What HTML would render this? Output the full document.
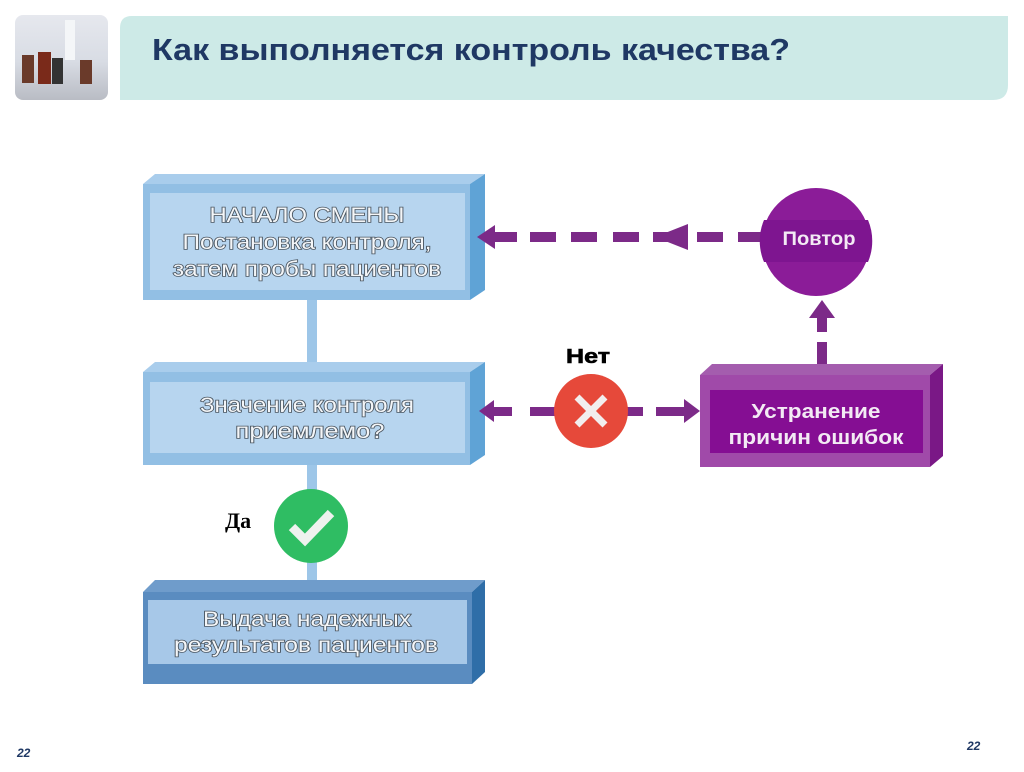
<!DOCTYPE html>
<html><head><meta charset="utf-8"><style>
body{margin:0;width:1024px;height:767px;background:#fff;overflow:hidden;font-family:"Liberation Sans",sans-serif}
.bt{font-size:21px;fill:#f4f6f8;stroke:#4a5560;stroke-width:1.6px;paint-order:stroke;text-anchor:middle}
</style></head><body>
<svg width="1024" height="767" viewBox="0 0 1024 767" xmlns="http://www.w3.org/2000/svg">
<defs>
<linearGradient id="img" x1="0" y1="0" x2="0" y2="1"><stop offset="0" stop-color="#e6e8ee"/><stop offset="0.55" stop-color="#d8dce4"/><stop offset="1" stop-color="#b9bcc4"/></linearGradient>
</defs>
<rect x="15" y="15" width="93" height="85" rx="8" fill="url(#img)"/>
<rect x="22" y="55" width="12" height="28" fill="#6a3a2a"/><rect x="38" y="52" width="13" height="32" fill="#7a2a1a"/><rect x="52" y="58" width="11" height="26" fill="#333"/><rect x="80" y="60" width="12" height="24" fill="#6a3a2a"/><rect x="65" y="20" width="10" height="40" fill="#f4f6f8"/>
<path d="M120 28 Q120 16 132 16 L1008 16 L1008 85 Q1008 100 993 100 L120 100 Z" fill="#cdeae7"/>
<text x="152" y="60" font-size="31" font-weight="bold" fill="#1f3864" textLength="638" lengthAdjust="spacingAndGlyphs">Как выполняется контроль качества?</text>

<rect x="307" y="298" width="10" height="76" fill="#9dc6e8"/>
<rect x="307" y="463" width="10" height="130" fill="#9dc6e8"/>

<polygon points="143,184 155,174 485,174 470,184" fill="#a9cdec"/>
<polygon points="470,184 485,174 485,290 470,300" fill="#5fa3d6"/>
<rect x="143" y="184" width="327" height="116" fill="#92bfe4"/>
<rect x="150" y="193" width="315" height="97" fill="#b7d5ef"/>
<text class="bt" x="307" y="222" textLength="195" lengthAdjust="spacingAndGlyphs">НАЧАЛО СМЕНЫ</text>
<text class="bt" x="307" y="249" textLength="249" lengthAdjust="spacingAndGlyphs">Постановка контроля,</text>
<text class="bt" x="307" y="276" textLength="268" lengthAdjust="spacingAndGlyphs">затем пробы пациентов</text>

<polygon points="143,372 155,362 485,362 470,372" fill="#a9cdec"/>
<polygon points="470,372 485,362 485,455 470,465" fill="#5fa3d6"/>
<rect x="143" y="372" width="327" height="93" fill="#92bfe4"/>
<rect x="150" y="382" width="315" height="71" fill="#b7d5ef"/>
<text class="bt" x="307" y="412" textLength="214" lengthAdjust="spacingAndGlyphs">Значение контроля</text>
<text class="bt" x="310" y="438" textLength="149" lengthAdjust="spacingAndGlyphs">приемлемо?</text>

<polygon points="143,592 155,580 485,580 472,592" fill="#6f9ccb"/>
<polygon points="472,592 485,580 485,672 472,684" fill="#2f6ea8"/>
<rect x="143" y="592" width="329" height="92" fill="#5a8cc0"/>
<rect x="148" y="600" width="319" height="64" fill="#a7c8e8"/>
<text class="bt" x="307" y="626" textLength="208" lengthAdjust="spacingAndGlyphs">Выдача надежных</text>
<text class="bt" x="306" y="652" textLength="264" lengthAdjust="spacingAndGlyphs">результатов пациентов</text>

<text x="225" y="528" font-family="Liberation Serif,serif" font-size="22" font-weight="bold" fill="#000">Да</text>
<circle cx="311" cy="526" r="37" fill="#2fbd63"/>
<path d="M292 527 L305 540 L331 513" fill="none" stroke="#eef2ee" stroke-width="9"/>

<g fill="#7c2a88">
<polygon points="477,237 495,225 495,249"/>
<rect x="495" y="232" width="22" height="10"/>
<rect x="530" y="232" width="26" height="10"/>
<rect x="571" y="232" width="26" height="10"/>
<rect x="613" y="232" width="26" height="10"/>
<polygon points="655,237 688,224 688,250"/>
<rect x="653" y="232" width="35" height="10"/>
<rect x="697" y="232" width="26" height="10"/>
<rect x="738" y="232" width="26" height="10"/>
</g>
<g fill="#7c2a88">
<polygon points="479,411 494,400 494,422"/>
<rect x="494" y="407" width="18" height="9"/>
<rect x="530" y="407" width="26" height="9"/>
<rect x="625" y="407" width="18" height="9"/>
<rect x="656" y="407" width="28" height="9"/>
<polygon points="700,411 684,399 684,423"/>
</g>
<g fill="#7c2a88">
<polygon points="822,300 809,318 835,318"/>
<rect x="817" y="318" width="10" height="14"/>
<rect x="817" y="342" width="10" height="22"/>
</g>

<text x="566" y="363" font-size="20" font-weight="bold" fill="#000" stroke="#000" stroke-width="0.6" textLength="44" lengthAdjust="spacingAndGlyphs">Нет</text>
<circle cx="591" cy="411" r="37" fill="#e6493a"/>
<path d="M577 397 L605 425 M605 397 L577 425" stroke="#f2eeee" stroke-width="7"/>

<polygon points="700,375 712,364 943,364 930,375" fill="#a45dae"/>
<polygon points="930,375 943,364 943,456 930,467" fill="#7a1886"/>
<rect x="700" y="375" width="230" height="92" fill="#a04aa9"/>
<rect x="710" y="390" width="213" height="63" fill="#850e93"/>
<g font-size="20" font-weight="bold" fill="#f3eaf4" text-anchor="middle">
<text x="816" y="418" textLength="129" lengthAdjust="spacingAndGlyphs">Устранение</text>
<text x="816" y="444" textLength="175" lengthAdjust="spacingAndGlyphs">причин ошибок</text>
</g>

<circle cx="816" cy="242" r="54" fill="#8b1c98"/>
<path d="M764 220 L868 220 A54 54 0 0 1 868 262 L764 262 A54 54 0 0 1 764 220 Z" fill="#7e1590"/>
<text x="819" y="245" font-size="19" font-weight="bold" fill="#f3eaf4" text-anchor="middle" textLength="73" lengthAdjust="spacingAndGlyphs">Повтор</text>

<text x="17" y="757" font-size="12" font-weight="bold" font-style="italic" fill="#1f3864">22</text>
<text x="967" y="750" font-size="12" font-weight="bold" font-style="italic" fill="#1f3864">22</text>
</svg>
</body></html>
